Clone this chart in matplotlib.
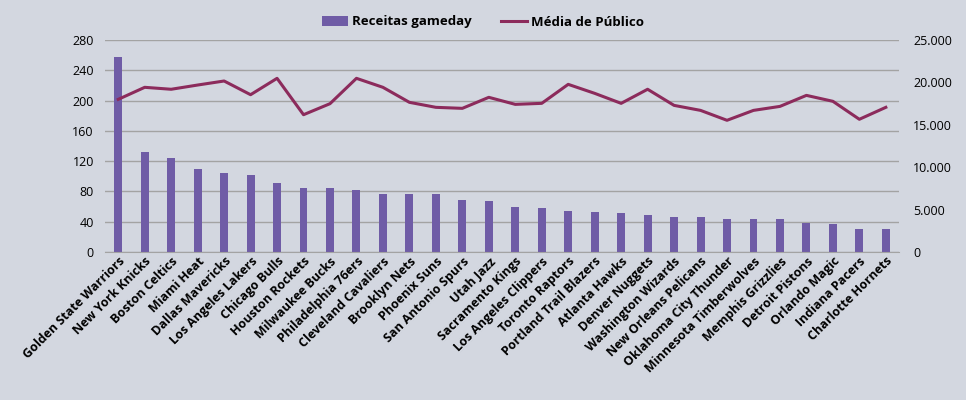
import matplotlib
matplotlib.use("Agg")
import matplotlib.pyplot as plt
from matplotlib.ticker import FuncFormatter

teams = ["Golden State Warriors", "New York Knicks", "Boston Celtics", "Miami Heat",
         "Dallas Mavericks", "Los Angeles Lakers", "Chicago Bulls", "Houston Rockets",
         "Milwaukee Bucks", "Philadelphia 76ers", "Cleveland Cavaliers", "Brooklyn Nets",
         "Phoenix Suns", "San Antonio Spurs", "Utah Jazz", "Sacramento Kings",
         "Los Angeles Clippers", "Toronto Raptors", "Portland Trail Blazers", "Atlanta Hawks",
         "Denver Nuggets", "Washington Wizards", "New Orleans Pelicans", "Oklahoma City Thunder",
         "Minnesota Timberwolves", "Memphis Grizzlies", "Detroit Pistons", "Orlando Magic",
         "Indiana Pacers", "Charlotte Hornets"]
receitas = [257, 132, 124, 110, 104, 102, 91, 85, 85, 82, 77, 76, 76, 69, 68, 59,
            58, 54, 53, 52, 49, 46, 46, 44, 44, 44, 38, 37, 30, 30]
publico = [18000, 19420, 19190, 19690, 20165, 18550, 20480, 16190, 17490, 20480,
           19420, 17650, 17060, 16940, 18240, 17410, 17530, 19770, 18710, 17530,
           19190, 17290, 16700, 15530, 16700, 17170, 18470, 17770, 15650, 17060]
left_ticks = [0, 40, 80, 120, 160, 200, 240, 280]
right_ticks = [0, 5000, 10000, 15000, 20000, 25000]

bg = "#D3D7E0"
bar_color = "#6F5CA6"
line_color = "#8C2B5C"
grid_color = "#A3A3A3"
font = ["Open Sans", "DejaVu Sans"]
plt.rcParams["font.family"] = font

fig = plt.figure(figsize=(9.66, 4.0), dpi=100, facecolor=bg)
ax = fig.add_axes([0.1087, 0.37, 0.822, 0.53])
ax.set_facecolor(bg)
x = list(range(len(teams)))
b = ax.bar(x, receitas, width=0.30, color=bar_color, zorder=2, label="Receitas gameday")
ax.set_ylim(0, 280)
ax.set_xlim(-0.5, len(teams) - 0.5)
ax.set_yticks(left_ticks)
ax.yaxis.grid(True, color=grid_color, linewidth=1, zorder=0)
ax.set_axisbelow(True)
for s in ax.spines.values():
    s.set_visible(False)
ax.spines["bottom"].set_visible(True)
ax.spines["bottom"].set_color(grid_color)
ax.tick_params(axis="y", length=0, labelsize=9, pad=8)
ax.tick_params(axis="x", length=0, pad=2)
ax.set_xticks(x)
ax.set_xticklabels(teams, rotation=45, ha="right", rotation_mode="anchor",
                   fontsize=9, fontweight="bold")

ax2 = ax.twinx()
ln, = ax2.plot(x, publico, color=line_color, linewidth=2.2, zorder=3, label="Média de Público")
ax2.set_ylim(0, 25000)
ax2.set_yticks(right_ticks)
ax2.yaxis.set_major_formatter(FuncFormatter(lambda v, p: f"{int(v):,}".replace(",", ".")))
ax2.tick_params(axis="y", length=0, labelsize=9, pad=10)
for s in ax2.spines.values():
    s.set_visible(False)

fig.legend([b, ln], ["Receitas gameday", "Média de Público"], loc="center",
           bbox_to_anchor=(0.5, 0.945), ncol=2, frameon=False,
           prop={"weight": "bold", "size": 9.5}, handlelength=2.0, columnspacing=2.2,
           handletextpad=0.3)

fig.savefig("out.png", dpi=100, facecolor=bg)
